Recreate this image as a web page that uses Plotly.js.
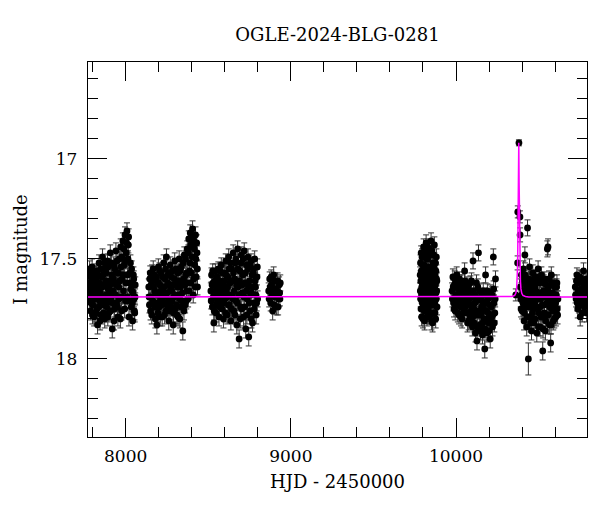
<!DOCTYPE html>
<html>
<head>
<meta charset="utf-8">
<script src="https://cdn.plot.ly/plotly-3.0.1.min.js"></script>
<style>
  html, body { margin: 0; padding: 0; background: #fff; }
  #lc { width: 600px; height: 512px; }
</style>
</head>
<body>
<div id="lc"></div>
<script>
// OGLE I-band photometry, one array per observing season: [HJD-2450000, I mag, error]
var obs2017 = [
  [7776,17.62,0.04],[7780,17.71,0.04],[7784,17.58,0.035],[7788,17.76,0.045],[7792,17.66,0.04],
  [7797,17.54,0.04],[7801,17.73,0.04],[7805,17.68,0.035],[7809,17.79,0.045],[7813,17.60,0.04],
  [7818,17.70,0.04],[7822,17.56,0.035],[7826,17.75,0.04],[7830,17.83,0.045],[7834,17.64,0.04],
  [7839,17.52,0.04],[7843,17.71,0.04],[7847,17.67,0.035],[7851,17.78,0.045],[7856,17.59,0.04],
  [7860,17.49,0.04],[7864,17.73,0.04],[7868,17.63,0.035],[7873,17.80,0.045],[7877,17.55,0.04],
  [7881,17.68,0.04],[7885,17.74,0.04],[7890,17.51,0.035],[7894,17.65,0.04],[7898,17.77,0.045],
  [7902,17.61,0.04],[7907,17.47,0.04],[7911,17.70,0.04],[7915,17.58,0.035],[7919,17.85,0.045],
  [7924,17.66,0.04],[7928,17.53,0.04],[7932,17.75,0.04],[7936,17.62,0.035],[7941,17.46,0.04],
  [7945,17.72,0.04],[7949,17.57,0.04],[7953,17.79,0.045],[7958,17.64,0.04],[7962,17.50,0.04],
  [7966,17.69,0.035],[7970,17.44,0.04],[7975,17.76,0.045],[7979,17.60,0.04],[7983,17.41,0.04],
  [7987,17.66,0.04],[7992,17.53,0.035],[7996,17.38,0.04],[8000,17.71,0.04],[8004,17.47,0.04],
  [8008,17.36,0.04],[8012,17.58,0.035],[8016,17.43,0.04],[8020,17.79,0.045],[8025,17.62,0.04],
  [8029,17.52,0.04],[8034,17.74,0.04],[8038,17.66,0.035],[8042,17.81,0.045],[8047,17.58,0.04],
  [8051,17.70,0.04],[8055,17.77,0.045],[8058,17.63,0.04],
  [7778,17.68,0.04],[7782,17.55,0.04],[7786,17.64,0.035],[7790,17.72,0.04],[7795,17.60,0.04],
  [7799,17.78,0.045],[7803,17.63,0.04],[7807,17.57,0.035],[7811,17.70,0.04],[7816,17.66,0.04],
  [7820,17.77,0.045],[7824,17.61,0.04],[7828,17.69,0.035],[7832,17.58,0.04],[7837,17.74,0.04],
  [7841,17.62,0.04],[7845,17.81,0.045],[7849,17.55,0.04],[7854,17.69,0.035],[7858,17.64,0.04],
  [7862,17.58,0.04],[7866,17.77,0.045],[7871,17.52,0.04],[7875,17.70,0.035],[7879,17.61,0.04],
  [7883,17.57,0.04],[7888,17.72,0.04],[7892,17.79,0.045],[7896,17.54,0.04],[7900,17.68,0.035],
  [7905,17.63,0.04],[7909,17.76,0.045],[7913,17.52,0.04],[7917,17.67,0.035],[7921,17.72,0.04],
  [7926,17.60,0.04],[7930,17.81,0.045],[7934,17.55,0.04],[7939,17.68,0.035],[7943,17.63,0.04],
  [7947,17.51,0.04],[7951,17.74,0.04],[7956,17.57,0.04],[7960,17.70,0.035],[7964,17.61,0.04],
  [7968,17.80,0.045],[7973,17.54,0.04],[7977,17.49,0.04],[7981,17.69,0.035],[7985,17.58,0.04],
  [7990,17.45,0.04],[7994,17.75,0.045],[7998,17.51,0.04],[8002,17.62,0.035],[8006,17.42,0.04],
  [8010,17.69,0.04],[8014,17.50,0.04],[8018,17.39,0.04],[8023,17.71,0.035],[8027,17.57,0.04],
  [8031,17.65,0.04],[8036,17.55,0.04],[8040,17.72,0.04],[8045,17.67,0.035],[8049,17.60,0.04],
  [8053,17.76,0.045],[8057,17.69,0.04]
];

var obs2018 = [
  [8140,17.64,0.04],[8144,17.73,0.04],[8149,17.57,0.035],[8153,17.69,0.04],[8158,17.78,0.045],
  [8162,17.61,0.04],[8167,17.55,0.04],[8171,17.72,0.04],[8176,17.66,0.035],[8180,17.80,0.045],
  [8185,17.59,0.04],[8189,17.83,0.045],[8194,17.68,0.04],[8198,17.54,0.04],[8203,17.74,0.04],
  [8207,17.63,0.035],[8212,17.70,0.04],[8216,17.57,0.04],[8221,17.79,0.045],[8225,17.65,0.04],
  [8230,17.52,0.04],[8234,17.72,0.04],[8239,17.60,0.035],[8243,17.76,0.04],[8247,17.49,0.04],
  [8252,17.67,0.04],[8256,17.58,0.035],[8261,17.81,0.045],[8265,17.63,0.04],[8270,17.53,0.04],
  [8274,17.74,0.04],[8279,17.66,0.035],[8283,17.56,0.04],[8288,17.83,0.045],[8292,17.69,0.04],
  [8297,17.51,0.04],[8301,17.75,0.04],[8306,17.62,0.035],[8310,17.78,0.045],[8315,17.57,0.04],
  [8319,17.68,0.04],[8324,17.50,0.04],[8328,17.80,0.045],[8333,17.64,0.035],[8337,17.54,0.04],
  [8342,17.71,0.04],[8346,17.86,0.045],[8351,17.60,0.04],[8355,17.48,0.04],[8360,17.73,0.04],
  [8364,17.58,0.035],[8369,17.66,0.04],[8373,17.45,0.04],[8378,17.70,0.04],[8382,17.40,0.04],
  [8387,17.56,0.035],[8391,17.37,0.04],[8396,17.62,0.04],[8400,17.44,0.04],[8405,17.35,0.04],
  [8409,17.68,0.04],[8414,17.41,0.035],[8418,17.53,0.04],[8423,17.38,0.04],[8427,17.59,0.04],
  [8432,17.47,0.035],[8435,17.64,0.04],
  [8142,17.69,0.04],[8146,17.60,0.035],[8151,17.76,0.045],[8155,17.63,0.04],[8160,17.57,0.04],
  [8164,17.71,0.04],[8169,17.64,0.035],[8173,17.58,0.04],[8178,17.74,0.045],[8182,17.67,0.04],
  [8187,17.61,0.04],[8191,17.72,0.04],[8196,17.77,0.045],[8200,17.62,0.035],[8205,17.56,0.04],
  [8209,17.79,0.045],[8214,17.66,0.04],[8218,17.73,0.04],[8223,17.59,0.035],[8227,17.69,0.04],
  [8232,17.64,0.04],[8236,17.78,0.045],[8241,17.55,0.04],[8245,17.67,0.035],[8250,17.73,0.04],
  [8254,17.62,0.04],[8259,17.70,0.04],[8263,17.57,0.035],[8268,17.76,0.045],[8272,17.65,0.04],
  [8277,17.59,0.04],[8281,17.71,0.04],[8286,17.63,0.035],[8290,17.77,0.045],[8295,17.60,0.04],
  [8299,17.68,0.04],[8304,17.55,0.04],[8308,17.73,0.04],[8313,17.64,0.035],[8317,17.79,0.045],
  [8322,17.61,0.04],[8326,17.70,0.04],[8331,17.56,0.035],[8335,17.74,0.04],[8340,17.62,0.04],
  [8344,17.67,0.04],[8349,17.52,0.04],[8353,17.76,0.045],[8358,17.63,0.035],[8362,17.50,0.04],
  [8367,17.71,0.04],[8371,17.57,0.04],[8376,17.62,0.035],[8380,17.47,0.04],[8385,17.66,0.04],
  [8389,17.52,0.04],[8394,17.43,0.04],[8398,17.57,0.035],[8403,17.49,0.04],[8407,17.39,0.04],
  [8412,17.60,0.04],[8416,17.45,0.035],[8421,17.64,0.04],[8425,17.50,0.04],[8430,17.42,0.04],
  [8434,17.55,0.04]
];

var obs2019 = [
  [8516,17.66,0.04],[8520,17.58,0.035],[8525,17.74,0.04],[8529,17.62,0.04],[8534,17.82,0.045],
  [8538,17.69,0.04],[8543,17.56,0.035],[8547,17.77,0.045],[8552,17.64,0.04],[8556,17.71,0.04],
  [8561,17.55,0.035],[8565,17.79,0.045],[8570,17.61,0.04],[8574,17.68,0.04],[8579,17.53,0.035],
  [8583,17.75,0.04],[8588,17.63,0.04],[8592,17.80,0.045],[8597,17.57,0.04],[8601,17.70,0.04],
  [8606,17.51,0.035],[8610,17.66,0.04],[8615,17.78,0.045],[8619,17.59,0.04],[8624,17.49,0.04],
  [8628,17.73,0.04],[8633,17.62,0.035],[8637,17.81,0.045],[8642,17.55,0.04],[8646,17.68,0.04],
  [8651,17.47,0.04],[8655,17.76,0.04],[8660,17.60,0.035],[8664,17.52,0.04],[8669,17.71,0.04],
  [8673,17.83,0.045],[8678,17.45,0.04],[8682,17.64,0.04],[8687,17.90,0.045],[8691,17.56,0.04],
  [8696,17.74,0.04],[8700,17.48,0.04],[8705,17.67,0.035],[8709,17.58,0.04],[8714,17.79,0.045],
  [8718,17.46,0.04],[8723,17.62,0.04],[8727,17.85,0.045],[8732,17.53,0.04],[8736,17.70,0.04],
  [8741,17.49,0.04],[8745,17.89,0.045],[8750,17.61,0.04],[8754,17.76,0.04],[8759,17.51,0.035],
  [8763,17.67,0.04],[8768,17.82,0.045],[8772,17.57,0.04],[8777,17.72,0.04],[8781,17.50,0.04],
  [8786,17.64,0.035],[8790,17.78,0.045],[8795,17.59,0.04],[8799,17.70,0.04],
  [8518,17.71,0.04],[8523,17.63,0.04],[8527,17.56,0.035],[8532,17.69,0.04],[8536,17.76,0.045],
  [8541,17.61,0.04],[8545,17.66,0.035],[8550,17.73,0.04],[8554,17.59,0.04],[8559,17.67,0.04],
  [8563,17.62,0.035],[8568,17.74,0.045],[8572,17.56,0.04],[8577,17.70,0.04],[8581,17.65,0.035],
  [8586,17.57,0.04],[8590,17.72,0.04],[8595,17.67,0.04],[8599,17.61,0.035],[8604,17.77,0.045],
  [8608,17.58,0.04],[8613,17.69,0.04],[8617,17.64,0.035],[8622,17.73,0.04],[8626,17.55,0.04],
  [8631,17.68,0.04],[8635,17.52,0.04],[8640,17.75,0.045],[8644,17.61,0.035],[8649,17.70,0.04],
  [8653,17.57,0.04],[8658,17.66,0.04],[8662,17.78,0.045],[8667,17.50,0.04],[8671,17.63,0.035],
  [8676,17.72,0.04],[8680,17.55,0.04],[8685,17.68,0.04],[8689,17.61,0.035],[8694,17.80,0.045],
  [8698,17.52,0.04],[8703,17.75,0.04],[8707,17.63,0.035],[8712,17.50,0.04],[8716,17.69,0.04],
  [8721,17.74,0.04],[8725,17.57,0.035],[8730,17.66,0.04],[8734,17.78,0.045],[8739,17.55,0.04],
  [8743,17.64,0.04],[8748,17.72,0.04],[8752,17.53,0.035],[8757,17.68,0.04],[8761,17.80,0.045],
  [8766,17.58,0.04],[8770,17.64,0.035],[8775,17.55,0.04],[8779,17.75,0.04],[8784,17.61,0.04],
  [8788,17.68,0.035],[8793,17.72,0.04],[8797,17.54,0.04]
];

var obs2020 = [
  [8866,17.66,0.04],[8872,17.60,0.035],[8878,17.72,0.04],[8884,17.63,0.04],[8890,17.76,0.045],
  [8896,17.58,0.04],[8902,17.69,0.04],[8908,17.65,0.035],[8914,17.74,0.04],[8920,17.61,0.04],
  [8926,17.70,0.04],[8932,17.67,0.035],[8936,17.62,0.04],
  [8869,17.70,0.04],[8875,17.64,0.04],[8881,17.59,0.035],[8887,17.68,0.04],[8893,17.66,0.04],
  [8899,17.73,0.045],[8905,17.61,0.04],[8911,17.69,0.035],[8917,17.66,0.04],[8923,17.74,0.04],
  [8929,17.63,0.04],[8934,17.70,0.035]
];

var obs2022 = [
  [9783,17.58,0.04],[9786,17.70,0.04],[9789,17.47,0.035],[9792,17.79,0.045],[9795,17.62,0.04],
  [9798,17.53,0.04],[9801,17.74,0.04],[9804,17.44,0.04],[9807,17.66,0.035],[9810,17.81,0.045],
  [9813,17.57,0.04],[9816,17.69,0.04],[9819,17.42,0.04],[9822,17.76,0.04],[9825,17.61,0.035],
  [9828,17.50,0.04],[9831,17.72,0.04],[9834,17.64,0.04],[9837,17.45,0.04],[9840,17.78,0.045],
  [9843,17.59,0.035],[9846,17.68,0.04],[9849,17.41,0.04],[9852,17.73,0.04],[9855,17.55,0.04],
  [9858,17.82,0.045],[9861,17.63,0.04],[9864,17.48,0.04],[9867,17.71,0.035],[9870,17.58,0.04],
  [9873,17.77,0.045],[9876,17.52,0.04],[9879,17.67,0.04],[9882,17.60,0.035],[9885,17.74,0.04],
  [9784,17.66,0.04],[9785,17.52,0.04],[9787,17.61,0.035],[9788,17.75,0.04],[9790,17.56,0.04],
  [9791,17.68,0.04],[9793,17.64,0.035],[9794,17.49,0.04],[9796,17.72,0.04],[9797,17.60,0.04],
  [9799,17.67,0.035],[9800,17.80,0.045],[9802,17.58,0.04],[9803,17.63,0.04],[9805,17.70,0.035],
  [9806,17.53,0.04],[9808,17.76,0.045],[9809,17.62,0.04],[9811,17.47,0.04],[9812,17.69,0.035],
  [9814,17.65,0.04],[9815,17.74,0.04],[9817,17.55,0.04],[9818,17.62,0.035],[9820,17.71,0.04],
  [9821,17.50,0.04],[9823,17.67,0.04],[9824,17.79,0.045],[9826,17.58,0.035],[9827,17.66,0.04],
  [9829,17.44,0.04],[9830,17.61,0.04],[9832,17.75,0.04],[9833,17.54,0.035],[9835,17.69,0.04],
  [9836,17.63,0.04],[9838,17.57,0.04],[9839,17.72,0.035],[9841,17.48,0.04],[9842,17.66,0.04],
  [9844,17.78,0.045],[9845,17.55,0.04],[9847,17.62,0.035],[9848,17.70,0.04],[9850,17.59,0.04],
  [9851,17.81,0.045],[9853,17.64,0.04],[9854,17.46,0.04],[9856,17.68,0.035],[9857,17.57,0.04],
  [9859,17.73,0.04],[9860,17.52,0.04],[9862,17.66,0.035],[9863,17.77,0.045],[9865,17.61,0.04],
  [9866,17.54,0.04],[9868,17.69,0.035],[9869,17.43,0.04],[9871,17.65,0.04],[9872,17.72,0.04],
  [9874,17.58,0.035],[9875,17.63,0.04],[9877,17.80,0.045],[9878,17.56,0.04],[9880,17.70,0.04],
  [9881,17.49,0.04],[9883,17.66,0.035],[9884,17.61,0.04]
];

var obs2023 = [
  [9976,17.66,0.04],[9981,17.59,0.04],[9985,17.72,0.04],[9990,17.63,0.035],[9995,17.76,0.045],
  [10000,17.68,0.04],[10004,17.58,0.04],[10009,17.71,0.04],[10014,17.65,0.035],[10018,17.78,0.045],
  [10023,17.62,0.04],[10028,17.74,0.04],[10033,17.67,0.035],[10037,17.80,0.045],[10042,17.64,0.04],
  [10047,17.72,0.04],[10052,17.56,0.04],[10056,17.69,0.035],[10061,17.77,0.045],[10066,17.63,0.04],
  [10070,17.82,0.045],[10075,17.70,0.04],[10080,17.66,0.035],[10085,17.79,0.045],[10089,17.73,0.04],
  [10094,17.61,0.04],[10099,17.84,0.045],[10103,17.51,0.04],[10108,17.75,0.04],[10113,17.68,0.035],
  [10118,17.87,0.045],[10122,17.71,0.04],[10127,17.91,0.045],[10132,17.64,0.04],[10136,17.47,0.04],
  [10141,17.78,0.04],[10146,17.83,0.045],[10150,17.69,0.035],[10155,17.74,0.04],[10160,17.88,0.045],
  [10165,17.66,0.04],[10169,17.80,0.04],[10174,17.95,0.045],[10179,17.58,0.04],[10183,17.76,0.04],
  [10188,17.87,0.045],[10193,17.70,0.04],[10197,17.82,0.04],[10202,17.73,0.035],[10207,17.90,0.045],
  [10211,17.67,0.04],[10216,17.79,0.04],[10221,17.84,0.045],[10226,17.49,0.04],[10230,17.72,0.04],
  [10235,17.77,0.04],[10239,17.60,0.04],
  [9978,17.70,0.04],[9983,17.64,0.035],[9988,17.75,0.04],[9992,17.60,0.04],[9997,17.69,0.035],
  [10002,17.73,0.04],[10007,17.63,0.04],[10011,17.77,0.045],[10016,17.68,0.04],[10021,17.60,0.035],
  [10025,17.70,0.04],[10030,17.79,0.045],[10035,17.62,0.04],[10039,17.73,0.04],[10044,17.66,0.035],
  [10049,17.76,0.04],[10054,17.61,0.04],[10058,17.74,0.04],[10063,17.68,0.035],[10068,17.72,0.04],
  [10073,17.64,0.04],[10077,17.81,0.045],[10082,17.70,0.04],[10087,17.62,0.035],[10091,17.76,0.04],
  [10096,17.69,0.04],[10101,17.79,0.045],[10106,17.66,0.04],[10110,17.82,0.045],[10115,17.72,0.035],
  [10120,17.78,0.04],[10124,17.62,0.04],[10129,17.84,0.045],[10134,17.70,0.04],[10138,17.76,0.04],
  [10143,17.66,0.035],[10148,17.86,0.045],[10153,17.78,0.04],[10157,17.71,0.04],[10162,17.82,0.045],
  [10167,17.75,0.04],[10171,17.68,0.035],[10176,17.85,0.045],[10181,17.72,0.04],[10186,17.80,0.04],
  [10190,17.66,0.035],[10195,17.77,0.04],[10200,17.86,0.045],[10204,17.69,0.04],[10209,17.81,0.04],
  [10214,17.74,0.035],[10218,17.68,0.04],[10223,17.78,0.04],[10228,17.65,0.04],[10232,17.82,0.045],
  [10237,17.70,0.04]
];

var obs2024 = [
  [10362,17.68,0.03],[10373,17.52,0.035],[10374,17.265,0.03],[10381,16.92,0.015],[10387,17.29,0.03],
  [10388,17.38,0.035],[10392,17.70,0.04],[10396,17.58,0.04],[10400,17.76,0.04],[10404,17.66,0.035],
  [10408,17.55,0.04],[10412,17.81,0.045],[10416,17.69,0.04],[10417,17.48,0.04],[10420,17.61,0.04],
  [10424,17.74,0.04],[10428,17.84,0.045],[10432,17.65,0.035],[10433,17.345,0.04],[10438,18.00,0.08],
  [10441,17.72,0.04],[10445,17.54,0.04],[10449,17.79,0.045],[10453,17.63,0.04],[10457,17.86,0.045],
  [10461,17.68,0.035],[10465,17.57,0.04],[10469,17.75,0.04],[10473,17.82,0.045],[10477,17.64,0.04],
  [10481,17.71,0.04],[10485,17.59,0.035],[10489,17.87,0.045],[10493,17.67,0.04],[10497,17.55,0.04],
  [10501,17.77,0.04],[10505,17.62,0.035],[10509,17.84,0.045],[10513,17.70,0.04],[10517,17.58,0.04],
  [10521,17.79,0.045],[10525,17.96,0.045],[10529,17.66,0.04],[10533,17.73,0.04],[10537,17.60,0.035],
  [10541,17.86,0.045],[10545,17.69,0.04],[10549,17.78,0.04],[10553,17.45,0.04],[10557,17.44,0.04],
  [10561,17.64,0.035],[10565,17.83,0.045],[10569,17.71,0.04],[10573,17.92,0.045],[10577,17.58,0.04],
  [10581,17.75,0.04],[10585,17.67,0.035],[10589,17.81,0.045],[10593,17.62,0.04],[10597,17.73,0.04],
  [10601,17.69,0.035],[10605,17.79,0.045],[10609,17.64,0.04],[10613,17.75,0.04],[10617,17.70,0.04],
  [10390,17.64,0.04],[10394,17.75,0.04],[10398,17.68,0.035],[10402,17.61,0.04],[10406,17.72,0.04],
  [10410,17.66,0.04],[10414,17.77,0.045],[10418,17.58,0.04],[10422,17.69,0.035],[10426,17.63,0.04],
  [10430,17.79,0.045],[10435,17.70,0.04],[10439,17.60,0.04],[10443,17.67,0.035],[10447,17.74,0.04],
  [10451,17.82,0.045],[10455,17.62,0.04],[10459,17.70,0.04],[10463,17.77,0.04],[10467,17.65,0.035],
  [10471,17.60,0.04],[10475,17.72,0.04],[10479,17.80,0.045],[10483,17.66,0.04],[10487,17.74,0.04],
  [10491,17.62,0.035],[10495,17.70,0.04],[10499,17.84,0.045],[10503,17.67,0.04],[10507,17.74,0.04],
  [10511,17.61,0.035],[10515,17.79,0.045],[10519,17.68,0.04],[10523,17.73,0.04],[10527,17.85,0.045],
  [10531,17.62,0.04],[10535,17.77,0.04],[10539,17.69,0.035],[10543,17.81,0.045],[10547,17.63,0.04],
  [10551,17.72,0.04],[10555,17.66,0.035],[10559,17.78,0.04],[10563,17.60,0.04],[10567,17.74,0.04],
  [10571,17.67,0.035],[10575,17.83,0.045],[10579,17.70,0.04],[10583,17.62,0.04],[10587,17.76,0.04],
  [10591,17.68,0.035],[10595,17.80,0.045],[10599,17.64,0.04],[10603,17.72,0.04],[10607,17.68,0.035],
  [10611,17.62,0.04],[10615,17.78,0.045]
];

var obs2025 = [
  [10722,17.64,0.04],[10727,17.70,0.04],[10732,17.58,0.035],[10737,17.75,0.045],[10742,17.62,0.04],
  [10747,17.68,0.04],[10752,17.79,0.045],[10757,17.60,0.04],[10762,17.72,0.04],[10767,17.66,0.035],
  [10772,17.56,0.04],[10777,17.74,0.04],[10782,17.63,0.04],[10787,17.69,0.035],[10791,17.77,0.045],
  [10724,17.68,0.04],[10729,17.61,0.035],[10734,17.72,0.04],[10739,17.66,0.04],[10744,17.73,0.04],
  [10749,17.59,0.035],[10754,17.70,0.04],[10759,17.65,0.04],[10764,17.77,0.045],[10769,17.62,0.04],
  [10774,17.69,0.035],[10779,17.67,0.04],[10784,17.72,0.04],[10789,17.60,0.04],[10792,17.66,0.035]
];

// microlensing model curve (magenta)
var modelHJD = [7772, 10320, 10340, 10355, 10362, 10367, 10370, 10372, 10374, 10376, 10378, 10380,
                10382, 10384, 10386, 10388, 10390, 10393, 10398, 10405, 10420, 10440, 10793];
var modelMag = [17.69, 17.69, 17.688, 17.682, 17.672, 17.65, 17.61, 17.55, 17.45, 17.30, 17.12, 16.92,
                17.12, 17.30, 17.45, 17.55, 17.61, 17.65, 17.672, 17.682, 17.688, 17.69, 17.69];

var allObs = [].concat(obs2017, obs2018, obs2019, obs2020, obs2022, obs2023, obs2024, obs2025);

var photometry = {
  x: allObs.map(r => r[0]),
  y: allObs.map(r => r[1]),
  error_y: {
    type: 'data',
    array: allObs.map(r => r[2]),
    visible: true,
    color: '#333',
    thickness: 1,
    width: 3
  },
  mode: 'markers',
  type: 'scatter',
  marker: { color: 'black', size: 6.8 },
  hoverinfo: 'x+y',
  showlegend: false
};

var model = {
  x: modelHJD,
  y: modelMag,
  mode: 'lines',
  type: 'scatter',
  line: { color: '#ff00ff', width: 1.5 },
  hoverinfo: 'skip',
  showlegend: false
};

var axisStyle = {
  showline: true,
  linecolor: 'black',
  linewidth: 1.2,
  mirror: 'allticks',
  ticks: 'inside',
  ticklen: 19,
  tickwidth: 1,
  tickcolor: 'black',
  showgrid: false,
  zeroline: false,
  tickfont: { size: 17, color: 'black' }
};

var layout = {
  width: 600,
  height: 512,
  margin: { l: 88, r: 13, t: 62, b: 75 },
  paper_bgcolor: 'white',
  plot_bgcolor: 'white',
  font: { family: 'DejaVu Serif, serif', color: 'black' },
  title: {
    text: 'OGLE-2024-BLG-0281',
    font: { size: 18 },
    x: 0.5, xref: 'paper',
    y: 0.932, yref: 'container', yanchor: 'middle'
  },
  xaxis: Object.assign({}, axisStyle, {
    range: [7772, 10793],
    tick0: 0, dtick: 1000,
    tickformat: 'd',
    ticklabelstandoff: 3,
    minor: { dtick: 200, ticks: 'inside', ticklen: 10, tickcolor: 'black' },
    title: { text: 'HJD - 2450000', font: { size: 18 }, standoff: 10 }
  }),
  yaxis: Object.assign({}, axisStyle, {
    range: [18.39, 16.516],
    tick0: 0, dtick: 0.5,
    ticklabelstandoff: 6,
    minor: { dtick: 0.1, ticks: 'inside', ticklen: 10, tickcolor: 'black' },
    title: { text: 'I magnitude', font: { size: 18 }, standoff: 7 }
  })
};

Plotly.newPlot('lc', [photometry, model], layout, { displayModeBar: false, staticPlot: true });
</script>
</body>
</html>
